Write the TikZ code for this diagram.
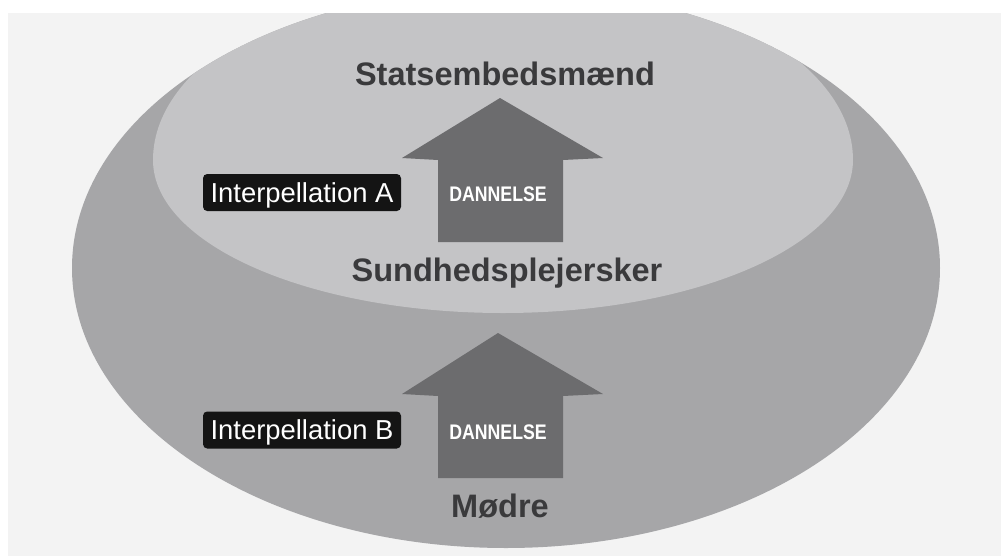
\documentclass[tikz,border=0pt]{standalone}
\usepackage{fontspec}
\setmainfont{Liberation Sans}
\definecolor{pagegray}{HTML}{F3F3F3}
\definecolor{outergray}{HTML}{A6A6A8}
\definecolor{innergray}{HTML}{C4C4C6}
\definecolor{arrowgray}{HTML}{6C6C6E}
\definecolor{textgray}{HTML}{3A3A3C}
\tikzset{
  level/.style={font=\fontsize{9.25}{11}\selectfont\bfseries, text=textgray, anchor=base},
  interp/.style={fill=black!92, rounded corners=1.2pt, text=white,
    font=\fontsize{7.8}{9}\selectfont, minimum width=1.98cm, minimum height=0.37cm,
    inner sep=0pt, text height=5.6pt, text depth=0pt},
  dann/.style={text=white, font=\fontsize{6}{7}\selectfont\bfseries, inner sep=0pt},
  house/.style={fill=arrowgray}
}
\newcommand{\dannword}{\scalebox{0.84}[1]{DANNELSE}}

\begin{document}
\begin{tikzpicture}[>=latex]
\useasboundingbox (0,0) rectangle (10.01,5.56);
\fill[white] (0,0) rectangle (10.01,5.56);
\fill[pagegray] (0.08,0) rectangle (10.01,5.43);
\begin{scope}
\clip (0.08,0) rectangle (10.01,5.43);
\fill[outergray] (5.06,2.88) ellipse (4.34 and 2.80);
\clip (5.06,2.88) ellipse (4.34 and 2.80);
% inner field, flatter below than above
\fill[innergray] (1.53,3.96) arc[start angle=180, end angle=360, x radius=3.50, y radius=1.53]
  arc[start angle=0, end angle=180, x radius=3.50, y radius=1.85] -- cycle;
\end{scope}
% upper arrow
\fill[house] (4.38,3.14) -- (4.38,3.96) -- (4.02,3.98) -- (5.00,4.58)
  -- (6.03,3.98) -- (5.63,3.96) -- (5.63,3.14) -- cycle;
% lower arrow
\fill[house] (4.38,0.78) -- (4.38,1.60) -- (4.02,1.62) -- (4.98,2.23)
  -- (6.03,1.62) -- (5.63,1.60) -- (5.63,0.78) -- cycle;
\path
(5.05,4.71)  node[level]  (stat)  {Statsembedsmænd}
(5.07,2.75)  node[level]  (sund)  {Sundhedsplejersker}
(5.00,0.39)  node[level]  (modre) {Mødre}
(3.02,3.635) node[interp] (intA)  {Interpellation A}
(3.02,1.26)  node[interp] (intB)  {Interpellation B}
(4.98,3.62)  node[dann]   (danA)  {\dannword}
(4.98,1.24)  node[dann]   (danB)  {\dannword};
\end{tikzpicture}
\end{document}
